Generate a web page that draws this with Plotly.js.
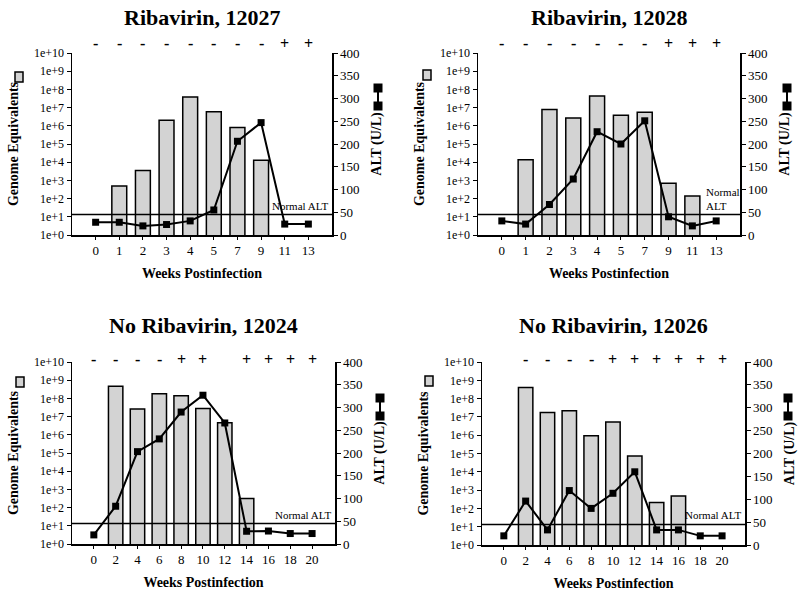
<!DOCTYPE html>
<html><head><meta charset="utf-8">
<script src="https://cdn.plot.ly/plotly-3.0.1.min.js"></script>
<style>html,body{margin:0;padding:0;background:#fff}#chart{width:800px;height:594px}</style>
</head><body><div id="chart"></div>
<script>
// ---- data ----
const weeksA = ['0','1','2','3','4','5','7','9','11','13'];
const weeksB = ['0','2','4','6','8','10','12','14','16','18','20'];

const ge12027  = [null, 5e2, 3.5e3, 2e6, 3.8e7, 6e6, 8e5, 1.3e4, null, null];
const alt12027 = [28, 28, 20, 23, 31, 55, 206, 247, 24, 24];
const sero12027 = ['-','-','-','-','-','-','-','-','+','+'];

const ge12028  = [null, 1.35e4, 7.8e6, 2.7e6, 4.4e7, 3.8e6, 5.6e6, 7e2, 1.4e2, null];
const alt12028 = [31, 24, 67, 123, 227, 200, 251, 40, 20, 31];
const sero12028 = ['-','-','-','-','-','-','-','+','+','+'];

const ge12024  = [null, 4.7e8, 2.6e7, 1.8e8, 1.4e8, 2.8e7, 4.6e6, 3.2e2, null, null, null];
const alt12024 = [20, 83, 203, 231, 290, 327, 266, 28, 28.5, 23, 23];
const sero12024 = ['-','-','-','-','+','+','','+','+','+','+'];

const ge12026  = [null, 4.1e8, 1.75e7, 2.2e7, 9.3e5, 5.2e6, 7.4e4, 2.1e2, 4.8e2, null, null];
const alt12026 = [20, 96, 33, 119, 80, 113, 160, 33, 33, 20, 20];
const sero12026 = ['','-','-','-','-','+','+','+','+','+','+'];

const titles = ['Ribavirin, 12027','Ribavirin, 12028','No Ribavirin, 12024','No Ribavirin, 12026'];
const normalALT = 45;
const geTickVals = [1,1e1,1e2,1e3,1e4,1e5,1e6,1e7,1e8,1e9,1e10];
const geTickText = ['1e+0','1e+1','1e+2','1e+3','1e+4','1e+5','1e+6','1e+7','1e+8','1e+9','1e+10'];

// ---- layout geometry (pixels) ----
const W = 800, H = 594;
const px = x => x / W, py = y => 1 - y / H;
const panels = [
  {weeks: weeksA, ge: ge12027, alt: alt12027, sero: sero12027, x0:72, x1:332, y0:53, y1:235, titleY:18, signY:43, legL:[15,72], legR:[378,88], nal:'Normal ALT', bw:0.63},
  {weeks: weeksA, ge: ge12028, alt: alt12028, sero: sero12028, x0:478, x1:740, y0:53, y1:235, titleY:18, signY:43, legL:[423,70], legR:[787,88], nal:'Normal<br>ALT', bw:0.63},
  {weeks: weeksB, ge: ge12024, alt: alt12024, sero: sero12024, x0:72, x1:335, y0:362, y1:544, titleY:325, signY:359, legL:[16,377], legR:[380,398], nal:'Normal ALT', bw:0.66},
  {weeks: weeksB, ge: ge12026, alt: alt12026, sero: sero12026, x0:482, x1:745, y0:362, y1:545, titleY:325, signY:359, legL:[425,376], legR:[788,398], nal:'Normal ALT', bw:0.66}
];

const serif = 'Liberation Serif';
const bold = (size) => ({family: serif, size: size, weight: 700});
const data = [];
const layout = {
  width: W, height: H, margin: {l:0, r:0, t:0, b:0},
  paper_bgcolor: '#fff', plot_bgcolor: 'rgba(0,0,0,0)',
  showlegend: false, font: {family: serif, color: '#000', size: 12},
  annotations: [], shapes: [], bargap: 0
};

panels.forEach((p, i) => {
  const xa = i === 0 ? 'x' : 'x' + (i + 1);
  const yl = 'y' + (2 * i + 1 === 1 ? '' : (2 * i + 1));
  const yr = 'y' + (2 * i + 2);
  const xKey = 'xaxis' + (i === 0 ? '' : i + 1);
  const ylKey = 'yaxis' + (2 * i + 1 === 1 ? '' : 2 * i + 1);
  const yrKey = 'yaxis' + (2 * i + 2);
  const n = p.weeks.length;

  data.push({
    type: 'bar', x: p.weeks, y: p.ge, xaxis: xa, yaxis: yl, width: p.bw,
    marker: {color: '#d3d3d3', line: {color: '#000', width: 1.5}}, hoverinfo: 'x+y'
  });
  data.push({
    type: 'scatter', mode: 'lines+markers', x: p.weeks, y: p.alt, xaxis: xa, yaxis: yr,
    line: {color: '#000', width: 2}, marker: {symbol: 'square', size: 7, color: '#000'}, cliponaxis: false
  });

  layout[xKey] = {
    domain: [px(p.x0), px(p.x1)], anchor: yl, type: 'category', range: [-1, n === 10 ? 10 : 11.05],
    showline: true, linecolor: '#000', linewidth: 1.5, ticks: 'outside', ticklen: 3, tickcolor: '#000',
    showgrid: false, zeroline: false, tickfont: {family: serif, size: 13},
    title: {text: 'Weeks Postinfection', font: bold(14), standoff: 11}
  };
  layout[ylKey] = {
    domain: [py(p.y1), py(p.y0)], anchor: xa, type: 'log', range: [0, 10],
    tickvals: geTickVals, ticktext: geTickText,
    showline: true, linecolor: '#000', linewidth: 1.5, ticks: 'outside', ticklen: 4, tickcolor: '#000',
    showgrid: false, zeroline: false, tickfont: {family: serif, size: 12},
    title: {text: 'Genome Equivalents', font: bold(14), standoff: 12}
  };
  layout[yrKey] = {
    domain: [py(p.y1), py(p.y0)], anchor: xa, overlaying: yl, side: 'right', range: [0, 400], dtick: 50,
    showline: true, linecolor: '#000', linewidth: 1.5, ticks: 'outside', ticklen: 4, tickcolor: '#000',
    showgrid: false, zeroline: false, tickfont: {family: serif, size: 13},
    title: {text: 'ALT (U/L)', font: bold(14), standoff: 12}
  };

  // normal ALT reference line
  layout.shapes.push({type: 'line', xref: xa + ' domain', yref: yr, x0: 0, x1: 1, y0: normalALT, y1: normalALT,
    line: {color: '#000', width: 1.5}});
  layout.annotations.push({xref: xa + ' domain', yref: yr, x: i === 1 ? 0.87 : 1, y: normalALT,
    xanchor: i === 1 ? 'left' : 'right', yanchor: 'bottom', yshift: 1, xshift: -2, showarrow: false, align: 'left',
    text: p.nal, font: {family: serif, size: 11}});

  // subplot title
  layout.annotations.push({xref: 'paper', yref: 'paper', x: (px(p.x0) + px(p.x1)) / 2, y: py(p.titleY),
    xanchor: 'center', yanchor: 'middle', showarrow: false, text: titles[i], font: bold(22)});

  // serology signs (x given as category index position)
  p.sero.forEach((s, k) => {
    if (!s) return;
    layout.annotations.push({xref: xa, yref: 'paper', x: k, y: py(p.signY), xanchor: 'center', yanchor: 'middle',
      showarrow: false, text: s, font: bold(16)});
  });

  // legend glyphs
  const [lx, ly] = p.legL;
  layout.shapes.push({type: 'rect', xref: 'paper', yref: 'paper', x0: px(lx), x1: px(lx + 8), y0: py(ly), y1: py(ly + 10),
    fillcolor: '#d3d3d3', line: {color: '#000', width: 1.5}});
  const [rx, ry] = p.legR;
  layout.shapes.push({type: 'line', xref: 'paper', yref: 'paper', x0: px(rx), x1: px(rx), y0: py(ry), y1: py(ry + 18),
    line: {color: '#000', width: 2}});
  [ry, ry + 18].forEach(cy => layout.shapes.push({type: 'rect', xref: 'paper', yref: 'paper',
    x0: px(rx - 4.5), x1: px(rx + 4.5), y0: py(cy - 4.5), y1: py(cy + 4.5), fillcolor: '#000', line: {width: 0}}));
});

Plotly.newPlot('chart', data, layout, {displayModeBar: false, staticPlot: true});
</script></body></html>
